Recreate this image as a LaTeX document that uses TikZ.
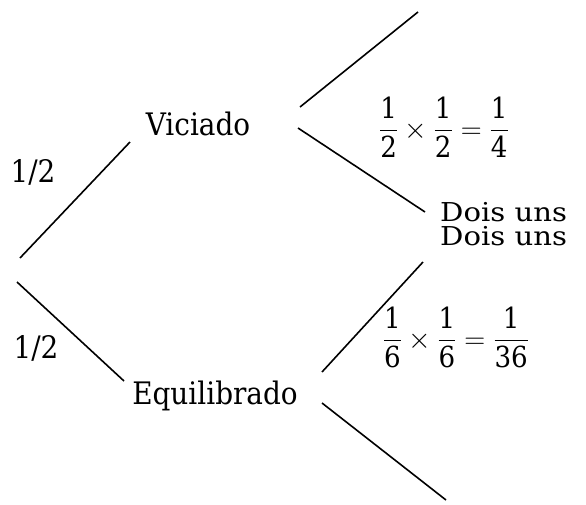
\RequirePackage{fix-cm}
\documentclass[tikz,border=0pt]{standalone}
\usepackage{amsmath}
\usepackage{fontspec}
\setmainfont[FakeStretch=0.9]{DejaVu Serif}
\newfontfamily\widefam[FakeStretch=1.12]{DejaVu Serif}
\newcommand{\dg}[1]{\text{#1}}
\begin{document}
\begin{tikzpicture}[x=1pt,y=-1pt,
  lbl/.style={font=\fontsize{31}{34}\selectfont, inner sep=0pt, anchor=base},
  dlbl/.style={font=\widefam\fontsize{26}{24}\selectfont, inner sep=0pt, anchor=north west, align=left},
  frc/.style={font=\fontsize{29}{30}\selectfont, inner sep=0pt, anchor=base},
  br/.style={line width=1.6pt}]
\useasboundingbox (0,0) rectangle (586,504);
% labels
\node[lbl] (vic) at (198,135) {Viciado};
\node[lbl] (equ) at (215,404) {Equilibrado};
\node[lbl] (h1) at (33,182) {1/2};
\node[lbl] (h2) at (36,358) {1/2};
\node[frc] (f1) at (444,138) {$\dfrac{\dg{1}}{\dg{2}}\times\dfrac{\dg{1}}{\dg{2}}=\dfrac{\dg{1}}{\dg{4}}$};
\node[frc] (f2) at (456,348) {$\dfrac{\dg{1}}{\dg{6}}\times\dfrac{\dg{1}}{\dg{6}}=\dfrac{\dg{1}}{\dg{36}}$};
\node[dlbl] (d) at (440,202) {Dois uns\\Dois uns};
% branch end points
\coordinate (r1) at (20,258);
\coordinate (r2) at (17,282);
\coordinate (vi) at (130,142);
\coordinate (ei) at (124,381);
\coordinate (vus) at (300,107);
\coordinate (vue) at (418,12);
\coordinate (vds) at (298,128);
\coordinate (vde) at (425,212);
\coordinate (eus) at (322,372);
\coordinate (eue) at (423,262);
\coordinate (eds) at (322,403);
\coordinate (ede) at (446,500);
% branches
\draw[br] (r1) -- (vi);
\draw[br] (r2) -- (ei);
\draw[br] (vus) -- (vue);
\draw[br] (vds) -- (vde);
\draw[br] (eus) -- (eue);
\draw[br] (eds) -- (ede);
\end{tikzpicture}
\end{document}
